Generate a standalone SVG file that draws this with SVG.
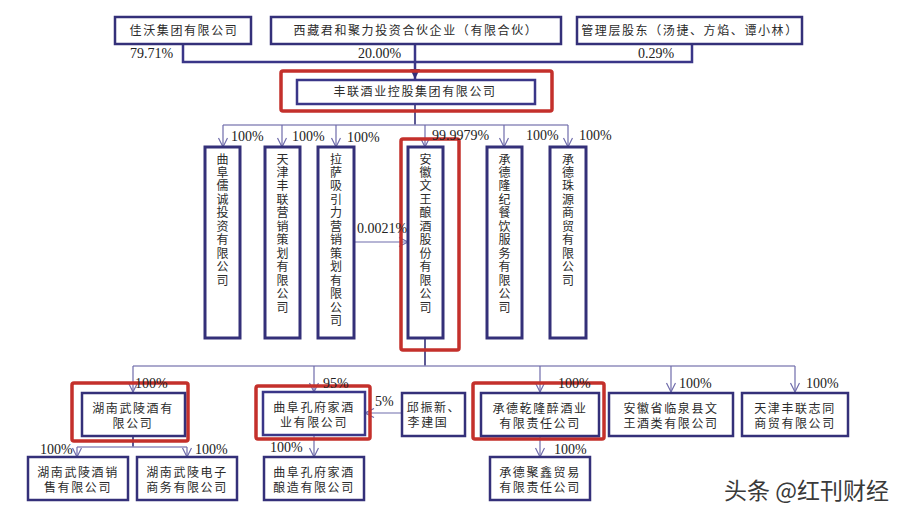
<svg xmlns="http://www.w3.org/2000/svg" width="905" height="517" viewBox="0 0 905 517">
<style>
text{font-family:"Noto Sans CJK SC","Noto Sans",sans-serif;font-size:12px;letter-spacing:1.6px;fill:#2b2b2b;text-anchor:middle}
text.p{font-family:"Liberation Serif",serif;font-size:14px;letter-spacing:0;fill:#222;text-anchor:start}
text.v{writing-mode:vertical-rl;text-anchor:start;letter-spacing:1.45px}
text.w{font-size:23px;letter-spacing:0;fill:#3a3a3a;text-anchor:start}
.b{fill:#fff;stroke:#343079;stroke-width:2.5}
.bv{fill:#fff;stroke:#343079;stroke-width:3}
.r{fill:none;stroke:#c4302b;stroke-width:3.5}
.d{fill:none;stroke:#3a3688;stroke-width:2.5}
.k{fill:none;stroke:#343079;stroke-width:1.6}
.l{fill:none;stroke:#8f8cbc;stroke-width:1.5}
.a{fill:none;stroke:#6f6cab;stroke-width:1.2}
</style>
<defs>
<marker id="o" markerWidth="12" markerHeight="12" refX="10" refY="5" orient="auto" markerUnits="userSpaceOnUse"><path d="M1,0.5L10,5L1,9.5" fill="none" stroke="#6f6cab" stroke-width="1.2"/></marker>
<marker id="f" markerWidth="12" markerHeight="12" refX="10" refY="5" orient="auto" markerUnits="userSpaceOnUse"><path d="M0,0L10,5L0,10Z" fill="#343079"/></marker>
</defs>
<g id="connectors">
<path class="d" d="M183 44V62H692V44"/>
<path class="d" d="M415 44V79" marker-end="url(#f)"/>
<path class="k" d="M415 104V125"/>
<path class="l" d="M223 125H568"/>
<path class="a" d="M223 125V147" marker-end="url(#o)"/>
<path class="a" d="M282 125V147" marker-end="url(#o)"/>
<path class="a" d="M336 125V147" marker-end="url(#o)"/>
<path class="a" d="M425 125V147" marker-end="url(#o)"/>
<path class="a" d="M504 125V147" marker-end="url(#o)"/>
<path class="a" d="M568 125V147" marker-end="url(#o)"/>
<path class="a" d="M354 242H408" marker-end="url(#o)"/>
<path class="k" d="M425 338V366"/>
<path class="l" d="M133 366H795"/>
<path class="a" d="M133 366V392" marker-end="url(#o)"/>
<path class="a" d="M314 366V392" marker-end="url(#o)"/>
<path class="a" d="M540 366V392" marker-end="url(#o)"/>
<path class="a" d="M671 366V392" marker-end="url(#o)"/>
<path class="a" d="M795 366V392" marker-end="url(#o)"/>
<path class="a" d="M402 413H365" marker-end="url(#o)"/>
<path class="k" d="M133 436V447"/>
<path class="l" d="M77 447H187"/>
<path class="a" d="M77 447V457" marker-end="url(#o)"/>
<path class="a" d="M187 447V457" marker-end="url(#o)"/>
<path class="a" d="M314 435V457" marker-end="url(#o)"/>
<path class="a" d="M540 436V457" marker-end="url(#o)"/>
</g>
<g id="n1"><rect class="b" x="115" y="17" width="136" height="27"/><text x="184" y="35">佳沃集团有限公司</text></g>
<g id="n2"><rect class="b" x="271" y="17" width="290" height="27"/><text x="416" y="35">西藏君和聚力投资合伙企业（有限合伙）</text></g>
<g id="n3"><rect class="b" x="577" y="17" width="225" height="27"/><text x="690" y="35">管理层股东（汤捷、方焰、谭小林）</text></g>
<g id="n4"><rect class="r" x="281" y="71" width="271" height="40" rx="2"/><rect class="d" x="297" y="80" width="238" height="24"/><text x="415" y="96">丰联酒业控股集团有限公司</text></g>
<g id="n5"><rect class="bv" x="205" y="147" width="35" height="191"/><text class="v" x="222.500" y="153">曲阜儒诚投资有限公司</text></g>
<g id="n6"><rect class="bv" x="265" y="147" width="35" height="191"/><text class="v" x="282.500" y="153">天津丰联营销策划有限公司</text></g>
<g id="n7"><rect class="bv" x="318" y="147" width="36" height="191"/><text class="v" x="336" y="153">拉萨吸引力营销策划有限公司</text></g>
<g id="n8"><rect class="r" x="401" y="139" width="58" height="211" rx="2"/><rect class="bv" x="408" y="147" width="35" height="191"/><text class="v" x="425.500" y="153">安徽文王酿酒股份有限公司</text></g>
<g id="n9"><rect class="bv" x="487" y="147" width="35" height="191"/><text class="v" x="504.500" y="153">承德隆纪餐饮服务有限公司</text></g>
<g id="n10"><rect class="bv" x="550" y="147" width="36" height="191"/><text class="v" x="568" y="153">承德珠源商贸有限公司</text></g>
<g id="n11"><rect class="r" x="72" y="383" width="116" height="58" rx="2"/><rect class="b" x="82" y="393" width="103" height="43"/><text><tspan x="133" y="413">湖南武陵酒有</tspan><tspan x="133" y="428">限公司</tspan></text></g>
<g id="n12"><rect class="r" x="256" y="386" width="114" height="53" rx="2"/><rect class="d" x="263" y="392" width="102" height="43"/><text><tspan x="314" y="412">曲阜孔府家酒</tspan><tspan x="314" y="427">业有限公司</tspan></text></g>
<g id="n13"><rect class="b" x="402" y="393" width="63" height="43"/><text><tspan x="434" y="412">邱振新、</tspan><tspan x="428" y="427">李建国</tspan></text></g>
<g id="n14"><rect class="r" x="473" y="383" width="131" height="56" rx="2"/><rect class="b" x="481" y="393" width="118" height="43"/><text><tspan x="540" y="413">承德乾隆醉酒业</tspan><tspan x="540" y="428">有限责任公司</tspan></text></g>
<g id="n15"><rect class="b" x="609" y="393" width="124" height="43"/><text><tspan x="671" y="413">安徽省临泉县文</tspan><tspan x="671" y="428">王酒类有限公司</tspan></text></g>
<g id="n16"><rect class="b" x="742" y="393" width="106" height="43"/><text><tspan x="795" y="413">天津丰联志同</tspan><tspan x="795" y="428">商贸有限公司</tspan></text></g>
<g id="n17"><rect class="b" x="28" y="457" width="100" height="43"/><text><tspan x="78" y="477">湖南武陵酒销</tspan><tspan x="78" y="492">售有限公司</tspan></text></g>
<g id="n18"><rect class="b" x="137" y="457" width="100" height="43"/><text><tspan x="187" y="477">湖南武陵电子</tspan><tspan x="187" y="492">商务有限公司</tspan></text></g>
<g id="n19"><rect class="b" x="264" y="457" width="100" height="43"/><text><tspan x="314" y="477">曲阜孔府家酒</tspan><tspan x="314" y="492">酿造有限公司</tspan></text></g>
<g id="n20"><rect class="b" x="490" y="457" width="100" height="43"/><text><tspan x="540" y="477">承德聚鑫贸易</tspan><tspan x="540" y="492">有限责任公司</tspan></text></g>
<g id="labels">
<text class="p" x="130" y="58">79.71%</text><text class="p" x="358" y="58">20.00%</text><text class="p" x="638" y="58">0.29%</text>
<text class="p" x="231" y="141">100%</text><text class="p" x="292" y="141">100%</text><text class="p" x="347" y="142">100%</text><text class="p" x="432" y="140">99.9979%</text><text class="p" x="526" y="140">100%</text><text class="p" x="579" y="140">100%</text>
<text class="p" x="357" y="233">0.0021%</text>
<text class="p" x="135" y="388">100%</text><text class="p" x="323" y="388">95%</text><text class="p" x="375" y="406">5%</text><text class="p" x="558" y="388">100%</text><text class="p" x="679" y="388">100%</text><text class="p" x="806" y="388">100%</text>
<text class="p" x="40" y="454">100%</text><text class="p" x="195" y="454">100%</text><text class="p" x="270" y="452">100%</text><text class="p" x="554" y="454">100%</text>
<text class="w" x="724" y="499">头条 @红刊财经</text>
</g>
</svg>
